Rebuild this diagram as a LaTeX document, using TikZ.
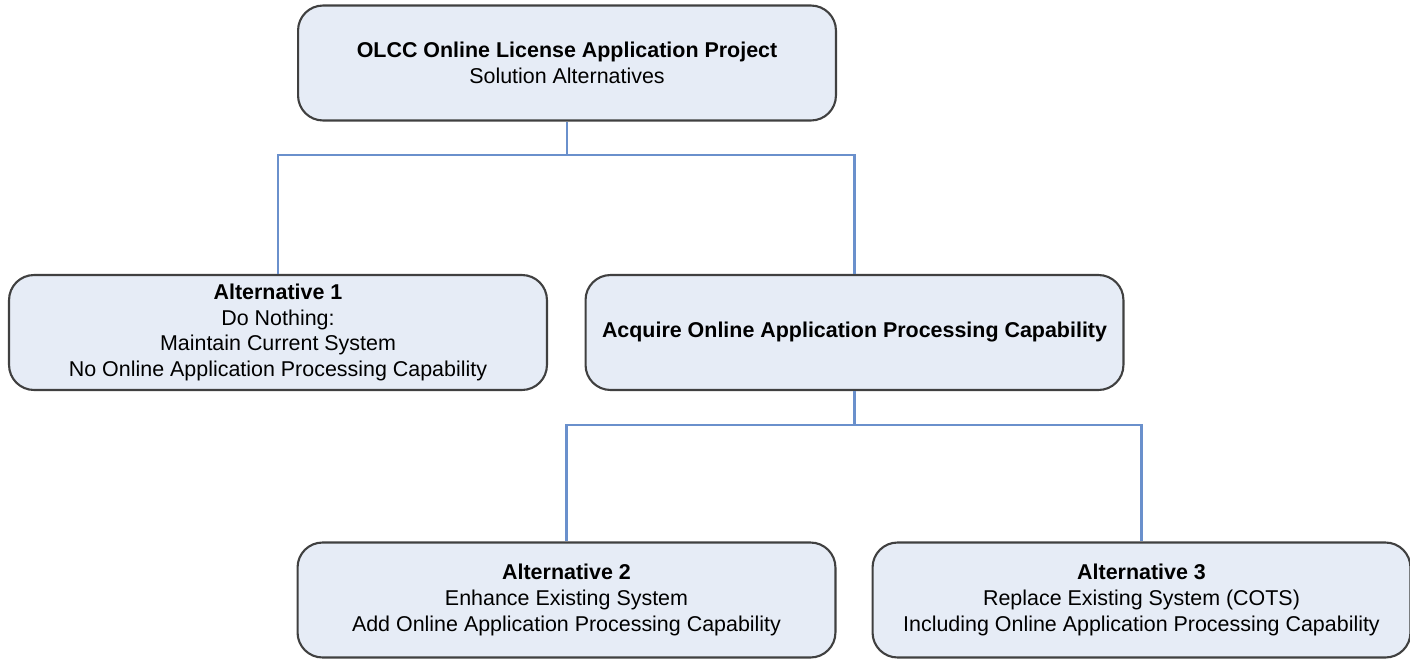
\documentclass[tikz,border=0pt]{standalone}
\usepackage{fontspec}
\setmainfont{Liberation Sans}
\definecolor{boxfill}{HTML}{E6ECF6}
\definecolor{boxline}{HTML}{404040}
\definecolor{linkblue}{HTML}{6A90CC}
\tikzset{
  altbox/.style={draw=boxline,line width=1.2pt,fill=boxfill,rounded corners=0.5cm,
    minimum width=10.76cm,minimum height=2.3cm,align=center,inner sep=2pt,
    font=\fontsize{12.2}{14.6}\selectfont},
  link/.style={draw=linkblue,line width=1.3pt}
}
\begin{document}
\begin{tikzpicture}[x=0.02cm,y=-0.02cm]
      \useasboundingbox (0,0) rectangle (1410,659);%

      \node[altbox] (top) at (567,63) {\textbf{OLCC Online License Application Project}\\Solution Alternatives};%
      \node[altbox] (alt1) at (278,332.5) {\textbf{Alternative 1}\\Do Nothing:\\Maintain Current System\\No Online Application Processing Capability};%
      \node[altbox] (acq) at (854.5,332.5) {\textbf{Acquire Online Application Processing Capability}};%
      \node[altbox] (alt2) at (566.5,600) {\textbf{Alternative 2}\\Enhance Existing System\\Add Online Application Processing Capability};%
      \node[altbox] (alt3) at (1141.5,600) {\textbf{Alternative 3}\\Replace Existing System (COTS)\\Including Online Application Processing Capability};%

      \coordinate (j1) at (567,155);%
      \coordinate (j2) at (854.5,425);%

      \draw[link] (top) -- (j1);%
      \draw[link] (alt1.north) |- (j1) -| (acq.north);%
      \draw[link] (acq) -- (j2);%
      \draw[link] (alt2.north) |- (j2) -| (alt3.north);%
    \end{tikzpicture}
\end{document}
